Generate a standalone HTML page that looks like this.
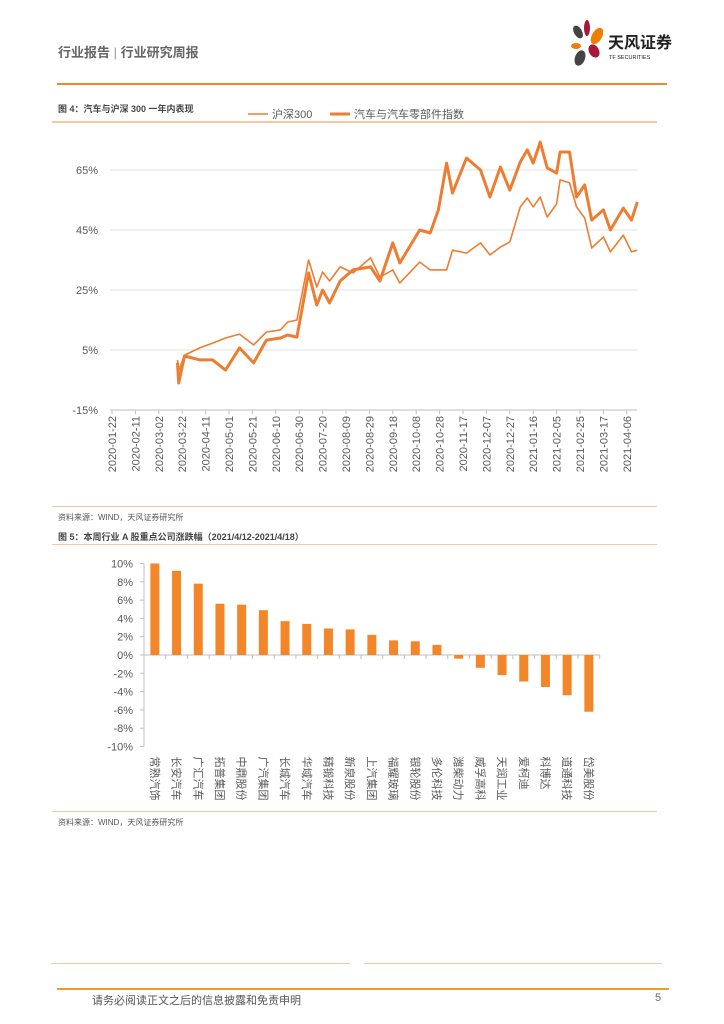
<!DOCTYPE html>
<html><head><meta charset="utf-8">
<style>
body{margin:0;background:#fff;}
#page{position:relative;width:724px;height:1024px;overflow:hidden;background:#fff;font-family:"Liberation Sans","Noto Sans CJK SC",sans-serif;}
.abs{position:absolute;}
</style></head>
<body>
<div id="page">
<div class="abs" style="left:58px;top:42px;font-size:13px;color:#666;font-weight:bold;">行业报告 <span style="font-weight:normal;color:#999">|</span> 行业研究周报</div>
<svg class="abs" style="left:560px;top:18px" width="120" height="70">
 <ellipse cx="18" cy="14" rx="4" ry="7" fill="#444" transform="rotate(-30 18 14)"/>
 <ellipse cx="27" cy="10" rx="3" ry="8" fill="#a8183a"/>
 <ellipse cx="37" cy="18" rx="5" ry="9" fill="#ef7d00" transform="rotate(30 37 18)"/>
 <ellipse cx="16" cy="28" rx="5" ry="3" fill="#ef7d00"/>
 <ellipse cx="34" cy="33" rx="5" ry="7" fill="#a8183a" transform="rotate(-30 34 33)"/>
 <ellipse cx="20" cy="40" rx="5" ry="8" fill="#444" transform="rotate(20 20 40)"/>
 <text x="48" y="30" font-size="16" font-weight="bold" fill="#222" font-family="Liberation Sans,Noto Sans CJK SC,sans-serif">天风证券</text>
 <text x="49" y="41" font-size="5.5" fill="#222" font-family="Liberation Sans,sans-serif">TF SECURITIES</text>
</svg>
<div class="abs" style="left:57px;top:83px;width:610px;height:2px;background:#ef8a2c"></div>
<div class="abs" style="left:58px;top:102px;font-size:9px;font-weight:bold;color:#444">图 4：汽车与沪深 300 一年内表现</div>
<div class="abs" style="left:52px;top:121px;width:605px;height:2px;background:#f8c9a0"></div>

<svg id="line" class="abs" style="left:0;top:0" width="724" height="500"></svg>

<div class="abs" style="left:52px;top:506px;width:605px;height:1px;background:#f8c9a0"></div>
<div class="abs" style="left:58px;top:512px;font-size:8px;color:#555">资料来源：WIND，天风证券研究所</div>
<div class="abs" style="left:58px;top:530px;font-size:9px;font-weight:bold;color:#444">图 5：本周行业 A 股重点公司涨跌幅（2021/4/12-2021/4/18）</div>
<div class="abs" style="left:52px;top:544px;width:605px;height:1px;background:#f8c9a0"></div>

<svg id="bar" class="abs" style="left:0;top:545px" width="724" height="265"></svg>

<div class="abs" style="left:52px;top:811px;width:605px;height:1px;background:#f8c9a0"></div>
<div class="abs" style="left:58px;top:817px;font-size:8px;color:#555">资料来源：WIND，天风证券研究所</div>

<div class="abs" style="left:51px;top:963px;width:299px;height:1px;background:#f8c9a0"></div>
<div class="abs" style="left:364px;top:963px;width:298px;height:1px;background:#f8c9a0"></div>
<div class="abs" style="left:57px;top:988px;width:612px;height:2px;background:#ef9a2c"></div>
<div class="abs" style="left:92px;top:992px;font-size:11px;color:#555">请务必阅读正文之后的信息披露和免责申明</div>
<div class="abs" style="left:655px;top:992px;font-size:11px;color:#666">5</div>
</div>

<script>
// ---- line chart data ----
const dateLabels=["2020-01-22","2020-02-11","2020-03-02","2020-03-22","2020-04-11","2020-05-01","2020-05-21","2020-06-10","2020-06-30","2020-07-20","2020-08-09","2020-08-29","2020-09-18","2020-10-08","2020-10-28","2020-11-17","2020-12-07","2020-12-27","2021-01-16","2021-02-05","2021-02-25","2021-03-17","2021-04-06"];
const yTicks=[-15,5,25,45,65];
const dayOffsets=[56,57,62,75,86,97,109,121,132,144,150,158,168,175,180,186,195,206,221,229,240,246,263,272,279,286,291,303,315,323,332,340,349,355,360,366,372,380,383,391,397,404,410,420,426,437,444,449];
const hs300=[1.7,-2,3.3,5.7,7.3,9,10.3,6.7,11,11.7,14.3,15,35,26,31,28,32.7,30.7,35.7,29.3,31.7,27.3,34.3,31.7,31.7,31.7,38.3,37.3,40.7,36.7,39.3,41,52.7,55.7,52.7,56,49.3,53.7,61.7,60.7,52.7,49,39,42.7,37.7,43.3,37.7,38.3];
const autoIdx=[0.7,-6,3,1.7,1.7,-1.7,5.7,0.7,8.3,9,10,9.3,30.7,20,25,20.7,28,31.7,32.7,28,40.7,34,45,44,51.7,67.3,57.3,69,65,56,66,58.3,67.7,71.7,67.3,74.3,65.7,64,71,71,56,60,48.3,51.7,45,52.3,48.3,54.3];
const legendNames=["沪深300","汽车与汽车零部件指数"];
</script>
<script>
(function(){
const NS="http://www.w3.org/2000/svg";
const svg=document.getElementById('line');
function mk(t,a){const e=document.createElementNS(NS,t);for(const k in a)e.setAttribute(k,a[k]);return e;}
const x0=112,dayPx=23.4/20,X=d=>x0+d*dayPx,Y=v=>350-(v-5)*3;
const n=Math.min(dayOffsets.length,hs300.length,autoIdx.length);
yTicks.forEach(t=>{
 if(t>-15){const g=mk('line',{x1:110,x2:637,y1:Y(t),y2:Y(t),stroke:'#e0e0e0','stroke-width':1});svg.appendChild(g);}
 const l=mk('text',{x:98,y:Y(t)+4,'text-anchor':'end','font-size':11,fill:'#595959'});l.textContent=t+'%';
 svg.appendChild(l);
});
const ax=mk('line',{x1:110,x2:637,y1:410,y2:410,stroke:'#bfbfbf'});
svg.appendChild(ax);
dateLabels.forEach((d,i)=>{
 const x=X(i*20);
 const tk=mk('line',{x1:x,x2:x,y1:410,y2:414,stroke:'#bfbfbf'});svg.appendChild(tk);
 const t=mk('text',{x:0,y:0,'text-anchor':'end','font-size':11,fill:'#595959',transform:`translate(${x+4},416) rotate(-90)`});t.textContent=d;
 svg.appendChild(t);
});
function path(arr,w,name){
 let s='';for(let i=0;i<n;i++)s+=(i?'L':'M')+X(dayOffsets[i]).toFixed(1)+','+Y(arr[i]).toFixed(1);
 const p=mk('path',{d:s,fill:'none',stroke:'#ed7d31','stroke-width':w,'stroke-linejoin':'round'});
 svg.appendChild(p);
}
path(hs300,1.6,'hs300-line');path(autoIdx,3,'auto-index-line');
[[248,1.6,legendNames[0]],[330,3,legendNames[1]]].forEach((l,i)=>{
 const g=mk('g',{});
 g.appendChild(mk('line',{x1:l[0],x2:l[0]+20,y1:114,y2:114,stroke:'#ed7d31','stroke-width':l[1]}));
 const t=mk('text',{x:l[0]+24,y:118,'font-size':11,fill:'#595959'});t.textContent=l[2];g.appendChild(t);svg.appendChild(g);
});
})();
</script>
<script>
// ---- bar chart data ----
const companies=["常熟汽饰","长安汽车","广汇汽车","拓普集团","中鼎股份","广汽集团","长城汽车","华域汽车","精锻科技","新泉股份","上汽集团","福耀玻璃","银轮股份","多伦科技","潍柴动力","威孚高科","天润工业","爱柯迪","科博达","道通科技","岱美股份"];
const changes=[10.0,9.2,7.8,5.6,5.5,4.9,3.7,3.4,2.9,2.8,2.2,1.6,1.5,1.1,-0.4,-1.4,-2.2,-2.9,-3.5,-4.4,-6.2];
const barTicks=[-10,-8,-6,-4,-2,0,2,4,6,8,10];
</script>
<script>
(function(){
const NS="http://www.w3.org/2000/svg";
const svg=document.getElementById('bar');
function mk(t,a){const e=document.createElementNS(NS,t);for(const k in a)e.setAttribute(k,a[k]);return e;}
const Y=v=>110-v*9.15;
const left=144,step=21.7,X=i=>left+step*(i+0.5);
const ya=mk('line',{x1:left,x2:left,y1:Y(10),y2:Y(-10),stroke:'#bfbfbf'});svg.appendChild(ya);
barTicks.forEach(t=>{
 const tk=mk('line',{x1:left-4,x2:left,y1:Y(t),y2:Y(t),stroke:'#bfbfbf'});svg.appendChild(tk);
 const l=mk('text',{x:left-11,y:Y(t)+4,'text-anchor':'end','font-size':11,fill:'#595959'});l.textContent=t+'%';
 svg.appendChild(l);
});
const xa=mk('line',{x1:left,x2:left+step*companies.length,y1:Y(0),y2:Y(0),stroke:'#bfbfbf'});svg.appendChild(xa);
companies.forEach((c,i)=>{
 const v=changes[i];
 const tk=mk('line',{x1:left+step*(i+1),x2:left+step*(i+1),y1:Y(0),y2:Y(0)+4,stroke:'#bfbfbf'});svg.appendChild(tk);
 const r=mk('rect',{x:X(i)-4.5,width:9,y:Math.min(Y(v),Y(0)),height:Math.abs(Y(v)-Y(0)),fill:'#f4862a'});
 svg.appendChild(r);
 const t=mk('text',{x:0,y:0,'font-size':11,fill:'#595959',transform:`translate(${X(i)-4},${Y(-10)+10}) rotate(90)`});t.textContent=c;
 svg.appendChild(t);
});
})();
</script>
</body></html>
